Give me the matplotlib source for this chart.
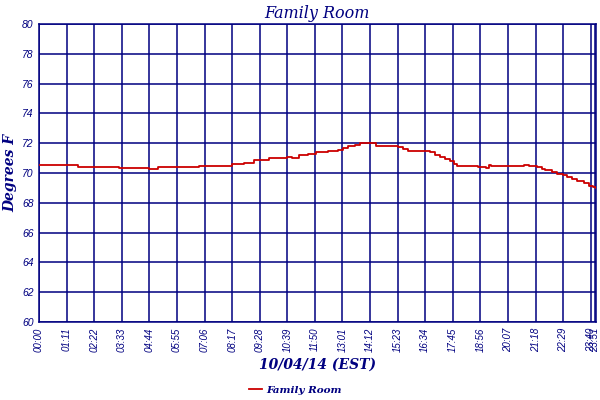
import matplotlib
matplotlib.use("Agg")
import matplotlib.pyplot as plt

# Data (minutes after midnight, degrees F)
minutes = [0, 54, 100, 207, 284, 305, 412, 425, 496, 527, 553, 571, 591, 624,
           637, 650, 668, 693, 714, 745, 770, 783, 796, 814, 827, 867, 885,
           924, 937, 949, 1006, 1018, 1031, 1044, 1057, 1067, 1077, 1123,
           1131, 1151, 1159, 1164, 1231, 1249, 1262, 1282, 1295, 1302, 1320,
           1333, 1349, 1359, 1372, 1384, 1402, 1415, 1425, 1433]
temps = [70.55, 70.55, 70.4, 70.35, 70.3, 70.4, 70.45, 70.5, 70.6, 70.7,
         70.85, 70.9, 71.0, 71.0, 71.1, 71.0, 71.2, 71.3, 71.4, 71.5, 71.55,
         71.65, 71.8, 71.9, 72.0, 71.8, 71.8, 71.75, 71.6, 71.5, 71.4, 71.2,
         71.1, 70.95, 70.8, 70.6, 70.5, 70.5, 70.4, 70.35, 70.55, 70.5,
         70.5, 70.55, 70.5, 70.4, 70.3, 70.2, 70.1, 69.95, 69.85, 69.75,
         69.6, 69.45, 69.3, 69.15, 69.05, 69.0]

tick_minutes = [0, 71, 142, 213, 284, 355, 426, 497, 568, 639, 710, 781,
                852, 923, 994, 1065, 1136, 1207, 1278, 1349, 1420, 1431]
tick_labels = ["00:00", "01:11", "02:22", "03:33", "04:44", "05:55", "07:06",
               "08:17", "09:28", "10:39", "11:50", "13:01", "14:12", "15:23",
               "16:34", "17:45", "18:56", "20:07", "21:18", "22:29", "23:40",
               "23:51"]
y_ticks = [60, 62, 64, 66, 68, 70, 72, 74, 76, 78, 80]

navy = "#000080"
red = "#CC0000"
serif = "DejaVu Serif"

fig = plt.figure(figsize=(6, 4), dpi=100)
ax = fig.add_axes([0.065, 0.195, 0.928, 0.745])

ax.plot(minutes, temps, color=red, linewidth=1.3, drawstyle="steps-post",
        label="Family Room", zorder=3)

ax.set_xlim(0, 1433)
ax.set_ylim(60, 80)
ax.set_xticks(tick_minutes)
ax.set_xticklabels(tick_labels, rotation=90, fontsize=7, style="italic",
                   color=navy, family="Liberation Sans")
ax.set_yticks(y_ticks)
ax.set_yticklabels([str(v) for v in y_ticks], fontsize=7.5, style="italic",
                   color=navy, family="Liberation Sans")
ax.tick_params(length=0, pad=4)
ax.grid(True, color=navy, linewidth=1.1)
for s in ax.spines.values():
    s.set_color(navy)
    s.set_linewidth(1.1)

ax.set_title("Family Room", fontsize=11.5, style="italic", color=navy,
             family=serif, pad=4)
ax.set_ylabel("Degrees F", fontsize=10, style="italic", fontweight="bold",
              color=navy, family=serif, labelpad=3)
ax.set_xlabel("10/04/14 (EST)", fontsize=10, style="italic", fontweight="bold",
              color=navy, family=serif, labelpad=4)

leg = ax.legend(loc="center", bbox_to_anchor=(0.46, -0.228), frameon=False,
                prop={"family": serif, "style": "italic", "weight": "bold",
                      "size": 7.5},
                handlelength=1.3, handletextpad=0.4)
for t in leg.get_texts():
    t.set_color(navy)

fig.savefig("out.png", dpi=100)
